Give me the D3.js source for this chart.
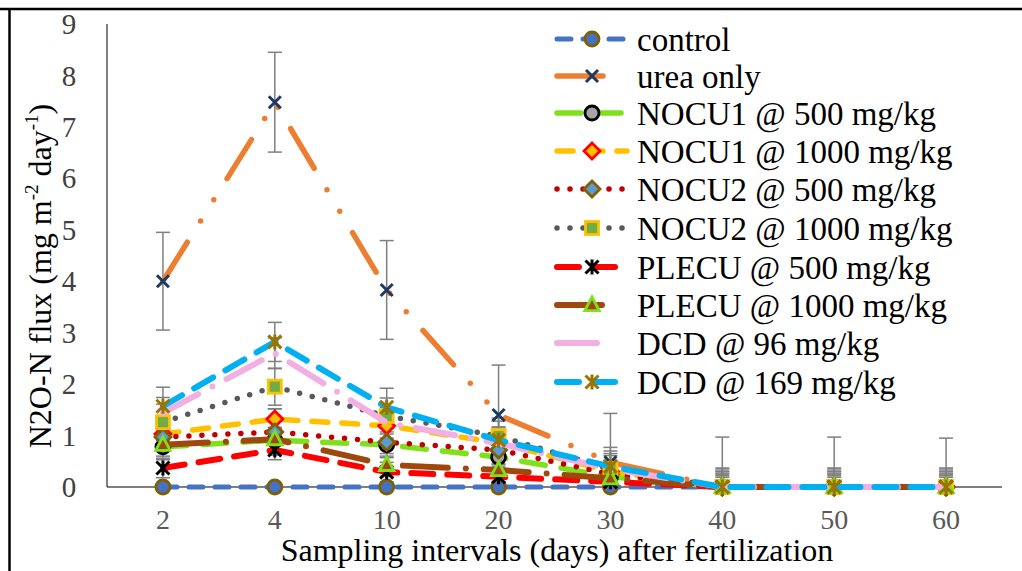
<!DOCTYPE html>
<html>
<head>
<meta charset="utf-8">
<script src="https://cdn.jsdelivr.net/npm/d3@7/dist/d3.min.js"></script>
<style>
  html, body { margin: 0; padding: 0; background: #fff; }
  svg { display: block; }
  text { font-family: "Liberation Serif", "Times New Roman", serif; }
</style>
</head>
<body>
<svg id="chart" width="1022" height="571"></svg>
<script>
// ---------- DATA ----------
const categories = ["2", "4", "10", "20", "30", "40", "50", "60"];
const yTicks = [0, 1, 2, 3, 4, 5, 6, 7, 8, 9];

const seriesNames = [
  "control", "urea only", "NOCU1 @ 500 mg/kg", "NOCU1 @ 1000 mg/kg",
  "NOCU2 @ 500 mg/kg", "NOCU2 @ 1000 mg/kg", "PLECU @ 500 mg/kg",
  "PLECU @ 1000 mg/kg", "DCD @ 96 mg/kg", "DCD @ 169 mg/kg"
];

const control    = [0, 0, 0, 0, 0, 0, 0, 0];
const ureaOnly   = [4.0, 7.48, 3.83, 1.40, 0.48, 0, 0, 0];
const nocu1_500  = [0.78, 0.91, 0.82, 0.58, 0.20, 0, 0, 0];
const nocu1_1000 = [1.03, 1.32, 1.19, 0.86, 0.30, 0, 0, 0];
const nocu2_500  = [0.97, 1.07, 0.87, 0.72, 0.25, 0, 0, 0];
const nocu2_1000 = [1.26, 1.95, 1.38, 0.99, 0.35, 0, 0, 0];
const plecu_500  = [0.37, 0.72, 0.29, 0.20, 0.10, 0, 0, 0];
const plecu_1000 = [0.82, 0.93, 0.43, 0.33, 0.17, 0, 0, 0];
const dcd_96     = [1.44, 2.60, 1.25, 0.85, 0.35, 0, 0, 0];
const dcd_169    = [1.57, 2.82, 1.55, 0.91, 0.40, 0, 0, 0];

// error bar half-widths (± values)
const errControl    = [0, 0, 0, 0, 0, 0, 0, 0];
const errUrea       = [0.95, 0.97, 0.96, 0.97, 0.95, 0.97, 0.97, 0.95];
const errNocu1_500  = [0.25, 0.25, 0.25, 0.25, 0.25, 0.25, 0.25, 0.25];
const errNocu1_1000 = [0.31, 0.20, 0.31, 0.31, 0.31, 0.31, 0.31, 0.31];
const errNocu2_500  = [0.27, 0.45, 0.27, 0.27, 0.27, 0.27, 0.27, 0.27];
const errNocu2_1000 = [0.35, 0.36, 0.35, 0.35, 0.35, 0.35, 0.35, 0.35];
const errPlecu_500  = [0.19, 0.19, 0.19, 0.19, 0.19, 0.19, 0.19, 0.19];
const errPlecu_1000 = [0.22, 0.22, 0.22, 0.22, 0.22, 0.22, 0.22, 0.22];
const errDcd_96     = [0.30, 0.30, 0.30, 0.30, 0.30, 0.30, 0.30, 0.30];
const errDcd_169    = [0.37, 0.38, 0.37, 0.37, 0.37, 0.37, 0.37, 0.37];

const seriesValues = [control, ureaOnly, nocu1_500, nocu1_1000, nocu2_500,
  nocu2_1000, plecu_500, plecu_1000, dcd_96, dcd_169];
const seriesErrors = [errControl, errUrea, errNocu1_500, errNocu1_1000, errNocu2_500,
  errNocu2_1000, errPlecu_500, errPlecu_1000, errDcd_96, errDcd_169];

// ---------- STYLES ----------
const FONT = "'Liberation Serif', 'Times New Roman', serif";
const styles = [
  { color: "#4472C4", width: 5, dash: "14,12", legEnd: 627, marker: "circle", mFill: "#4472C4", mStroke: "#7F6000" },
  { color: "#ED7D31", width: 5.5, dash: "46,25,0,25,0,25", legEnd: 605, marker: "x", mFill: "none", mStroke: "#1F3864" },
  { color: "#7FE01C", width: 5.5, dash: "24,16", legEnd: 627, marker: "circle", mFill: "#A5A5A5", mStroke: "#000000" },
  { color: "#FFC000", width: 5.5, dash: "16,14", legEnd: 627, marker: "diamond", mFill: "#FFC000", mStroke: "#FF0000" },
  { color: "#C00000", width: 5.5, dash: "0,13", legEnd: 627, marker: "diamond", mFill: "#5B9BD5", mStroke: "#806000" },
  { color: "#595959", width: 5.5, dash: "0,13", legEnd: 627, marker: "square", mFill: "#70AD47", mStroke: "#FFC000" },
  { color: "#FF0000", width: 6, dash: "22,14", legEnd: 627, marker: "star", mFill: "none", mStroke: "#000000" },
  { color: "#9E480E", width: 6, dash: "45,18,0,18", legEnd: 605, marker: "triangle", mFill: "#9E480E", mStroke: "#7FE01C" },
  { color: "#F2B0E2", width: 6, dash: "40,16,0,16", legEnd: 605, marker: "none", mFill: "none", mStroke: "none" },
  { color: "#00B0F0", width: 6, dash: "22,14", legEnd: 627, marker: "star", mFill: "none", mStroke: "#9A7400" }
];

// ---------- LAYOUT ----------
const svg = d3.select("#chart");
const pLeft = 107, pRight = 1002, pTop = 24, pBottom = 487;

const x = d3.scalePoint().domain(categories).range([pLeft, pRight]).padding(0.5);
const y = d3.scaleLinear().domain([0, 9]).range([pBottom, pTop]);

// frame
svg.append("line").attr("x1", 0).attr("x2", 1022).attr("y1", 9).attr("y2", 9)
  .attr("stroke", "#000").attr("stroke-width", 2.5);
svg.append("line").attr("x1", 9.5).attr("x2", 9.5).attr("y1", 8).attr("y2", 571)
  .attr("stroke", "#000").attr("stroke-width", 2.5);

// axes lines
svg.append("line").attr("x1", pLeft).attr("x2", pLeft).attr("y1", pTop).attr("y2", pBottom)
  .attr("stroke", "#000").attr("stroke-width", 1);
svg.append("line").attr("x1", pLeft).attr("x2", pRight).attr("y1", pBottom).attr("y2", pBottom)
  .attr("stroke", "#000").attr("stroke-width", 1.2);

// y tick labels
svg.append("g").selectAll("text").data(yTicks).join("text")
  .attr("x", 69).attr("y", d => y(d)).attr("dy", "0.35em")
  .attr("font-family", FONT)
  .attr("text-anchor", "middle").attr("font-size", 29).attr("fill", "#404040")
  .text(d => d);

// x tick labels
svg.append("g").selectAll("text").data(categories).join("text")
  .attr("x", d => x(d)).attr("y", 519).attr("dy", "0.35em")
  .attr("font-family", FONT)
  .attr("text-anchor", "middle").attr("font-size", 28).attr("fill", "#595959")
  .text(d => d);

// axis titles
svg.append("text").attr("x", 557).attr("y", 550).attr("dy", "0.35em")
  .attr("font-family", FONT)
  .attr("text-anchor", "middle").attr("font-size", 32).attr("fill", "#000")
  .text("Sampling intervals (days) after fertilization");

const yt = svg.append("text").attr("transform", "translate(40,276) rotate(-90)")
  .attr("font-family", FONT)
  .attr("text-anchor", "middle").attr("font-size", 32).attr("fill", "#000").attr("dy", "0.35em");
yt.append("tspan").text("N2O-N flux (mg m");
yt.append("tspan").attr("font-size", 19).attr("dy", "-0.7em").text("-2");
yt.append("tspan").attr("dy", "0.42em").attr("font-size", 32).text(" day");
yt.append("tspan").attr("font-size", 19).attr("dy", "-0.7em").text("-1");
yt.append("tspan").attr("dy", "0.42em").attr("font-size", 32).text(")");

// clip
svg.append("clipPath").attr("id", "plotclip").append("rect")
  .attr("x", pLeft).attr("y", 0).attr("width", 1022 - pLeft).attr("height", pBottom + 10);

const plot = svg.append("g");

// marker drawing
function drawMarker(g, type, cx, cy, fill, stroke) {
  if (type === "circle") {
    g.append("circle").attr("cx", cx).attr("cy", cy).attr("r", 7)
      .attr("fill", fill).attr("stroke", stroke).attr("stroke-width", 2.8);
  } else if (type === "x") {
    const s = 6;
    g.append("path").attr("d", `M${cx - s},${cy - s}L${cx + s},${cy + s}M${cx - s},${cy + s}L${cx + s},${cy - s}`)
      .attr("stroke", stroke).attr("stroke-width", 3).attr("fill", "none");
  } else if (type === "diamond") {
    const s = 8;
    g.append("path").attr("d", `M${cx},${cy - s}L${cx + s},${cy}L${cx},${cy + s}L${cx - s},${cy}Z`)
      .attr("fill", fill).attr("stroke", stroke).attr("stroke-width", 2.8);
  } else if (type === "square") {
    const s = 6.5;
    g.append("rect").attr("x", cx - s).attr("y", cy - s).attr("width", 2 * s).attr("height", 2 * s)
      .attr("fill", fill).attr("stroke", stroke).attr("stroke-width", 2.8);
  } else if (type === "triangle") {
    const s = 8;
    g.append("path").attr("d", `M${cx},${cy - s}L${cx + s * 0.9},${cy + s * 0.7}L${cx - s * 0.9},${cy + s * 0.7}Z`)
      .attr("fill", fill).attr("stroke", stroke).attr("stroke-width", 2.8);
  } else if (type === "star") {
    const s = 6.5;
    g.append("path").attr("d", `M${cx - s},${cy - s}L${cx + s},${cy + s}M${cx - s},${cy + s}L${cx + s},${cy - s}M${cx},${cy - s - 1}L${cx},${cy + s + 1}`)
      .attr("stroke", stroke).attr("stroke-width", 3).attr("fill", "none");
  }
}

// error bars
const errG = plot.append("g").attr("clip-path", "url(#plotclip)");
seriesValues.forEach((vals, si) => {
  const errs = seriesErrors[si];
  vals.forEach((v, i) => {
    const e = errs[i];
    if (!e) return;
    const cx = x(categories[i]);
    const y1 = y(v + e), y0 = y(Math.max(0, v - e));
    errG.append("line").attr("x1", cx).attr("x2", cx).attr("y1", y1).attr("y2", y0)
      .attr("stroke", "#7F7F7F").attr("stroke-width", 1.5);
    errG.append("line").attr("x1", cx - 7).attr("x2", cx + 7).attr("y1", y1).attr("y2", y1)
      .attr("stroke", "#7F7F7F").attr("stroke-width", 1.5);
    if (v - e >= 0) {
      errG.append("line").attr("x1", cx - 7).attr("x2", cx + 7).attr("y1", y0).attr("y2", y0)
        .attr("stroke", "#7F7F7F").attr("stroke-width", 1.5);
    }
  });
});

// lines + markers
const lineGen = d3.line().x((d, i) => x(categories[i])).y(d => y(d));
seriesValues.forEach((vals, si) => {
  const st = styles[si];
  const g = plot.append("g");
  g.append("path").attr("d", lineGen(vals)).attr("fill", "none")
    .attr("stroke", st.color).attr("stroke-width", st.width)
    .attr("stroke-dasharray", st.dash).attr("stroke-linecap", "round")
    .attr("stroke-linejoin", "round");
  if (st.marker !== "none") {
    vals.forEach((v, i) => drawMarker(g, st.marker, x(categories[i]), y(v), st.mFill, st.mStroke));
  }
});

// legend
const legendY = [39, 76, 113, 151, 189, 228, 267, 305, 343, 382];
const leg = svg.append("g");
seriesNames.forEach((name, si) => {
  const st = styles[si];
  const ly = legendY[si];
  leg.append("line").attr("x1", 557).attr("x2", st.legEnd).attr("y1", ly).attr("y2", ly)
    .attr("stroke", st.color).attr("stroke-width", st.width)
    .attr("stroke-dasharray", st.dash).attr("stroke-linecap", "round");
  if (st.marker !== "none") drawMarker(leg, st.marker, 592, ly, st.mFill, st.mStroke);
  leg.append("text").attr("x", 637).attr("y", ly).attr("dy", "0.35em")
    .attr("font-family", FONT)
    .attr("font-size", 33).attr("fill", "#000").text(name);
});
</script>
</body>
</html>
